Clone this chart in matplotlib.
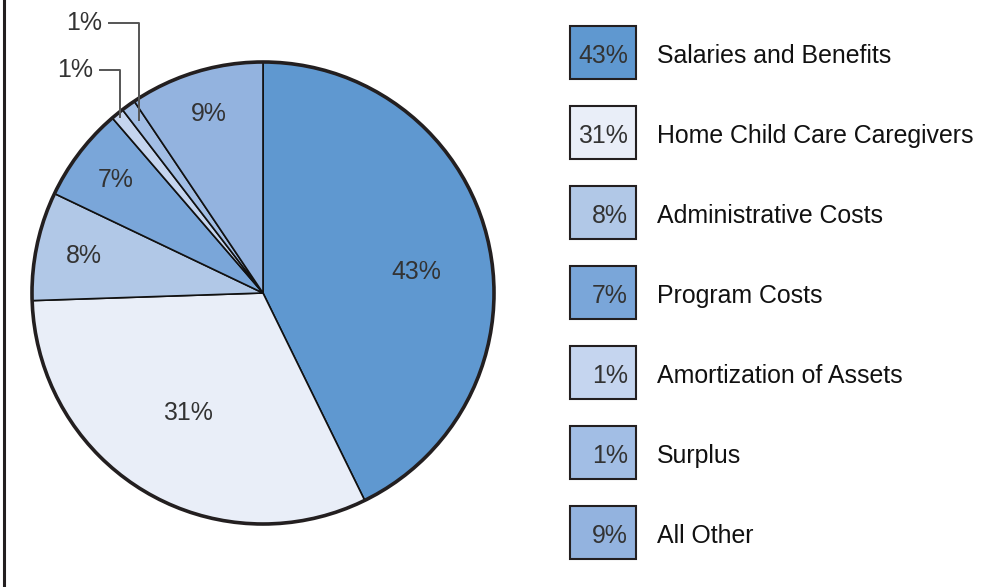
import numpy as np
import matplotlib
matplotlib.use("Agg")
from matplotlib import pyplot as plt
from matplotlib.patches import Rectangle, Circle

plt.rcParams['font.family'] = ['Liberation Sans', 'DejaVu Sans']

# data (slice sizes, labels as printed)
categories = ["Salaries and Benefits", "Home Child Care Caregivers", "Administrative Costs",
              "Program Costs", "Amortization of Assets", "Surplus", "All Other"]
shares = [42.7, 31.7, 7.6, 6.6, 0.9, 1.0, 9.4]
labels = ["43%", "31%", "8%", "7%", "1%", "1%", "9%"]
colors = ["#5f98d0", "#e9eef8", "#b1c8e7", "#7aa6d9", "#c5d5ef", "#a2bee5", "#93b3df"]

W, H = 993, 587
FS = 17.9
fig = plt.figure(figsize=(W / 100, H / 100), dpi=100)
ax = fig.add_axes([0, 0, 1, 1])

cx, cy, R = 263, H - 293, 231
wedges, _ = ax.pie(shares, colors=colors, startangle=90, counterclock=False,
                   center=(cx, cy), radius=R,
                   wedgeprops=dict(edgecolor="#111111", linewidth=1.2))
ax.add_patch(Circle((cx, cy), R, fill=False, edgecolor="#231f20", linewidth=2.6, zorder=5))

# percent labels inside the bigger wedges (radius fraction, angle nudge in degrees)
label_r = [0.668, 0.613, 0.792, 0.805, None, None, 0.811]
label_dang = [-5.3, -1.1, 0, 0, 0, 0, 0]
for w, lab, r, da in zip(wedges, labels, label_r, label_dang):
    if r is None:
        continue
    ang = np.deg2rad((w.theta1 + w.theta2) / 2 + da)
    ax.text(cx + r * R * np.cos(ang), cy + r * R * np.sin(ang), lab,
            ha="center", va="center", fontsize=FS, color="#333333")

# leader lines for the two 1% slices: (text x, text y, radius fraction of line end)
leaders = {4: (75, H - 70, 0.98), 5: (84, H - 23, 0.92)}
for i, (tx, ty, r) in leaders.items():
    w = wedges[i]
    ang = np.deg2rad((w.theta1 + w.theta2) / 2)
    px = cx + r * R * np.cos(ang)
    py = cy + r * R * np.sin(ang)
    ax.plot([tx + 25, px, px], [ty, ty, py], color="#555555", lw=1.4, zorder=6)
    ax.text(tx, ty, labels[i], ha="center", va="center", fontsize=FS, color="#333333")

# legend boxes
for i, (cat, lab, col) in enumerate(zip(categories, labels, colors)):
    top = 26 + i * 80
    ax.add_patch(Rectangle((570, H - top - 53), 66, 53, facecolor=col,
                           edgecolor="#231f20", linewidth=1.5))
    ax.text(628, H - top - 37, lab, ha="right", va="baseline", fontsize=FS, color="#333333")
    ax.text(657, H - top - 37, cat, ha="left", va="baseline", fontsize=FS, color="#111111")

# left border
ax.plot([4, 4], [0, H], color="#231f20", lw=2.2)

ax.set_xlim(0, W)
ax.set_ylim(0, H)
ax.set_aspect("auto")
ax.axis("off")

plt.savefig("out.png", dpi=100)
